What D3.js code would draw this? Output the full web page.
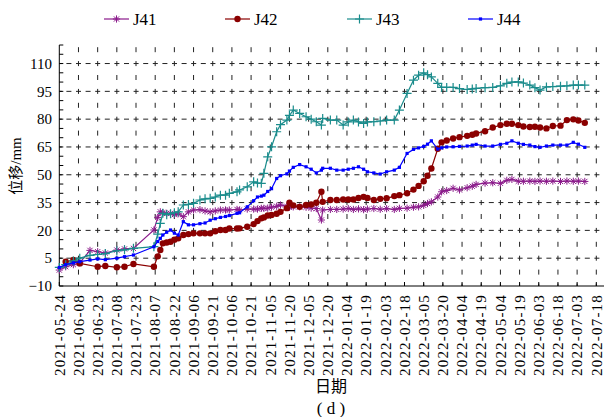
<!DOCTYPE html>
<html>
<head>
<meta charset="utf-8">
<script src="https://cdn.jsdelivr.net/npm/d3@7"></script>
<style>
  body { margin: 0; background: #fff; }
  svg { display: block; font-family: "Liberation Serif", "Times New Roman", "Noto Sans CJK SC", serif; }
</style>
</head>
<body>
<svg id="chart" width="610" height="417"></svg>
<script>
// monitoring dates (shared by all four points)
const dates = [
  "2021-05-24","2021-05-29","2021-06-04","2021-06-09","2021-06-17","2021-06-23","2021-06-29","2021-07-08","2021-07-14","2021-07-21",
  "2021-08-06","2021-08-09","2021-08-11","2021-08-13","2021-08-16","2021-08-19","2021-08-22","2021-08-25","2021-08-29","2021-09-02",
  "2021-09-06","2021-09-11","2021-09-15","2021-09-19","2021-09-23","2021-09-27","2021-10-01","2021-10-04","2021-10-10","2021-10-12",
  "2021-10-18","2021-10-23","2021-10-26","2021-10-29","2021-10-31","2021-11-03","2021-11-06","2021-11-10","2021-11-13","2021-11-18",
  "2021-11-20","2021-11-23","2021-11-28","2021-12-03","2021-12-07","2021-12-11","2021-12-15","2021-12-16","2021-12-22","2021-12-27",
  "2022-01-01","2022-01-05","2022-01-09","2022-01-13","2022-01-17","2022-01-20","2022-01-25","2022-01-30","2022-02-04","2022-02-10",
  "2022-02-14","2022-02-20","2022-02-25","2022-03-01","2022-03-05","2022-03-08","2022-03-11","2022-03-16","2022-03-19","2022-03-23",
  "2022-03-28","2022-04-02","2022-04-08","2022-04-12","2022-04-15","2022-04-22","2022-04-28","2022-05-04","2022-05-09","2022-05-13",
  "2022-05-18","2022-05-22","2022-05-27","2022-05-31","2022-06-04","2022-06-09","2022-06-14","2022-06-20","2022-06-25","2022-06-30",
  "2022-07-04","2022-07-09"
];

const j41 = [
  -1.4, 0.4, 1.5, 2.5, 9.2, 8.5, 7.8, 9.4, 10, 10.3,
  20.2, 27, 30, 29.5, 29.2, 29.2, 28.5, 29, 27.4, 30,
  31, 31.2, 30.5, 30, 30.5, 31, 31, 31, 31.3, 31,
  31.5, 31.5, 31.5, 31.9, 31.9, 32, 32.5, 33, 33.7, 33,
  32.5, 32.7, 32.7, 32.5, 32, 31.8, 25.6, 31, 31.3, 31.3,
  31.5, 31.8, 31.3, 31.6, 31.2, 31.5, 31.8, 31.4, 31.7, 31.3,
  31.9, 32, 32.5, 32.7, 33.5, 34.5, 35.4, 38, 40.8, 41.5,
  42.7, 41.8, 43, 43.8, 44.8, 45.5, 45.7, 45.4, 47, 47.5,
  46.5, 46.5, 46.6, 46.4, 46.6, 46.5, 46.6, 46.4, 46.6, 46.5,
  46.6, 46.4
];

const j42 = [
  null, 3.1, 4, 2.2, null, 0.4, 0.8, 0.1, 0.4, 1.9,
  0.4, 6, 9.4, 13, 13.5, 13.9, 15, 15.7, 17.5, 18,
  18.4, 18.4, 18.4, 18.4, 19.5, 20.2, 20.2, 21, 21, 21.1,
  22, 23.4, 25, 26.5, 27, 28, 28.3, 29, 30, 32,
  34.9, 33.5, 32.7, 33.7, 34, 34.9, 40.8, 35.4, 36.4, 36.4,
  36.7, 36.7, 36.7, 37.5, 38.1, 37.5, 36.4, 37, 37.3, 38.5,
  39, 40, 42, 44, 46.5, 49.5, 53.4, 64, 67.5, 68.5,
  69.6, 70.3, 71, 71.6, 72.3, 73.5, 75.5, 76.8, 77.5, 77.5,
  76.8, 76, 75.8, 75.9, 75.5, 75, 76.3, 76.5, 79.5, 79.9,
  79.3, 78
];

const j43 = [
  0, 1.5, 3.5, 5, 6.5, 7, 7.5, 9, 9.5, 10.3,
  11.2, 18, 23.8, 29.2, 28.5, 29, 29.5, 30, 33.7, 34,
  34.6, 36.4, 37, 37.3, 38, 39, 39, 40, 40.8, 41.8,
  43.5, 46.2, 45.5, 45.4, 50.8, 59.7, 65.1, 73.2, 77, 79.5,
  82, 84.9, 83.1, 81.3, 80, 78.6, 76.8, 80.4, 79.5, 79.5,
  76.8, 78.5, 79.5, 78.5, 77.7, 78.5, 78.6, 79, 79.5, 79.5,
  84.9, 93.9, 101, 103.7, 105, 104, 102.8, 99.3, 97.1, 97.1,
  97.1, 96.5, 96, 96.3, 96.6, 97, 97.1, 98, 99.3, 100,
  100.1, 99.5, 98.4, 97, 95.7, 97.4, 97.6, 97.8, 98, 98.4,
  98.4, 98.4
];

const j44 = [
  0, 1.5, 2.5, 3.1, 4, 4.6, 4.2, 5, 5.8, 6.7,
  11.2, 14, 15.7, 17.5, 19, 20.2, 18.5, 17.5, 24.7, 23,
  23, 23.6, 24, 25.5, 26.3, 27, 27.5, 28, 29.2, 29.5,
  32.7, 36, 38, 38.5, 39, 41, 42.5, 48, 49.5, 50.5,
  52, 54, 55.5, 54.3, 53, 51, 52.5, 53.5, 53.5, 52.5,
  52.5, 53, 53.5, 54.3, 53, 51.6, 51, 50.4, 51.6, 52.5,
  54, 61.5, 63.7, 64.5, 65.3, 66.5, 68.3, 63.9, 64.5, 65,
  65.1, 65.3, 65.5, 66, 66.4, 65.5, 65.5, 66.4, 67, 68.3,
  67, 66.4, 66, 65.2, 64.8, 65.5, 66, 66, 66, 67.5,
  66.5, 64.8
];

const xTickDates = [
  "2021-05-24","2021-06-08","2021-06-23","2021-07-08","2021-07-23","2021-08-07","2021-08-22","2021-09-06",
  "2021-09-21","2021-10-06","2021-10-21","2021-11-05","2021-11-20","2021-12-05","2021-12-20","2022-01-04",
  "2022-01-19","2022-02-03","2022-02-18","2022-03-05","2022-03-20","2022-04-04","2022-04-19","2022-05-04",
  "2022-05-19","2022-06-03","2022-06-18","2022-07-03","2022-07-18"
];
const yTicks = [-10, 5, 20, 35, 50, 65, 80, 95, 110];

const series = [
  { name: "J41", values: j41, color: "#8B1A8B", marker: "star" },
  { name: "J42", values: j42, color: "#8B0000", marker: "circle" },
  { name: "J43", values: j43, color: "#1A8C8C", marker: "plus" },
  { name: "J44", values: j44, color: "#0000FF", marker: "square" },
];

const parse = d3.timeParse("%Y-%m-%d");
const svg = d3.select("#chart");
const L = 59.3, R = 604, T = 45, B = 286;

const x = d3.scaleTime()
  .domain([parse(xTickDates[0]), parse(xTickDates[xTickDates.length - 1])])
  .range([L, 596.3]);
const y = d3.scaleLinear().domain([-10, 120]).range([B, T]);

// grid
const grid = svg.append("g").attr("stroke", "#222").attr("stroke-width", 1);
grid.selectAll("line.h").data(yTicks.slice(1)).join("line").attr("class", "h")
  .attr("x1", L).attr("x2", R).attr("y1", d => y(d)).attr("y2", d => y(d))
  .attr("stroke-dasharray", "5,4.6").attr("stroke-dashoffset", 2.5);
grid.selectAll("line.v").data(xTickDates.slice(1)).join("line").attr("class", "v")
  .attr("x1", d => x(parse(d))).attr("x2", d => x(parse(d)))
  .attr("y1", B).attr("y2", T)
  .attr("stroke-dasharray", "5,8.9").attr("stroke-dashoffset", 2.5);

// axes
const ax = svg.append("g").attr("stroke", "#000").attr("stroke-width", 1);
ax.append("line").attr("x1", L).attr("x2", L).attr("y1", T).attr("y2", B);
ax.append("line").attr("x1", L).attr("x2", R).attr("y1", B).attr("y2", B);
ax.selectAll("line.yt").data(d3.range(-10, 121, 5)).join("line").attr("class", "yt")
  .attr("x1", L).attr("x2", L + 4).attr("y1", d => y(d)).attr("y2", d => y(d));
ax.selectAll("line.xt").data(xTickDates).join("line").attr("class", "xt")
  .attr("x1", d => x(parse(d))).attr("x2", d => x(parse(d))).attr("y1", B).attr("y2", B - 4);

svg.append("g").selectAll("text").data(yTicks).join("text")
  .attr("x", 52).attr("y", d => y(d)).attr("dy", "0.35em")
  .attr("text-anchor", "end").attr("font-size", 15)
  .text(d => d < 0 ? "\u2212" + Math.abs(d) : d);

svg.append("g").selectAll("text").data(xTickDates).join("text")
  .attr("transform", d => `translate(${x(parse(d))},294) rotate(-90)`)
  .attr("dy", "0.35em").attr("text-anchor", "end")
  .attr("font-size", 15).attr("letter-spacing", 1.2)
  .text(d => d);

svg.append("text").attr("transform", "translate(21,166) rotate(-90)")
  .attr("text-anchor", "middle").attr("font-size", 15).text("位移/mm");
svg.append("text").attr("x", 331).attr("y", 392)
  .attr("text-anchor", "middle").attr("font-size", 16).text("日期");
svg.append("text").attr("x", 331).attr("y", 414)
  .attr("text-anchor", "middle").attr("font-size", 17).text("( d )");

// markers
function drawMarker(g, type, color) {
  if (type === "star") {
    const s = 3.6, a = 2.6;
    g.append("path").attr("fill", "none").attr("stroke", color).attr("stroke-width", 1)
      .attr("d", `M${-s},0H${s}M0,${-s}V${s}M${-a},${-a}L${a},${a}M${-a},${a}L${a},${-a}`);
  } else if (type === "circle") {
    g.append("circle").attr("r", 3.2).attr("fill", color);
  } else if (type === "plus") {
    const s = 4.5;
    g.append("path").attr("fill", "none").attr("stroke", color).attr("stroke-width", 1.2)
      .attr("d", `M${-s},0H${s}M0,${-s}V${s}`);
  } else {
    g.append("rect").attr("x", -1.6).attr("y", -1.6).attr("width", 3.2).attr("height", 3.2).attr("fill", color);
  }
}

const line = d3.line().x(d => x(d.date)).y(d => y(d.v));
series.forEach(s => {
  const pts = dates.map((d, i) => ({ date: parse(d), v: s.values[i] })).filter(p => p.v !== null);
  const g = svg.append("g");
  g.append("path").attr("d", line(pts)).attr("fill", "none")
    .attr("stroke", s.color).attr("stroke-width", 1.2);
  pts.forEach(p => {
    const m = g.append("g").attr("transform", `translate(${x(p.date)},${y(p.v)})`);
    drawMarker(m, s.marker, s.color);
  });
});

// legend
const legendX = [104, 225, 347, 468];
series.forEach((s, i) => {
  const g = svg.append("g").attr("transform", `translate(${legendX[i]},19)`);
  g.append("line").attr("x1", 0).attr("x2", 25).attr("stroke", s.color).attr("stroke-width", 1.2);
  drawMarker(g.append("g").attr("transform", "translate(12.5,0)"), s.marker, s.color);
  g.append("text").attr("x", 29).attr("y", 6).attr("font-size", 17).text(s.name);
});
</script>
</body>
</html>
